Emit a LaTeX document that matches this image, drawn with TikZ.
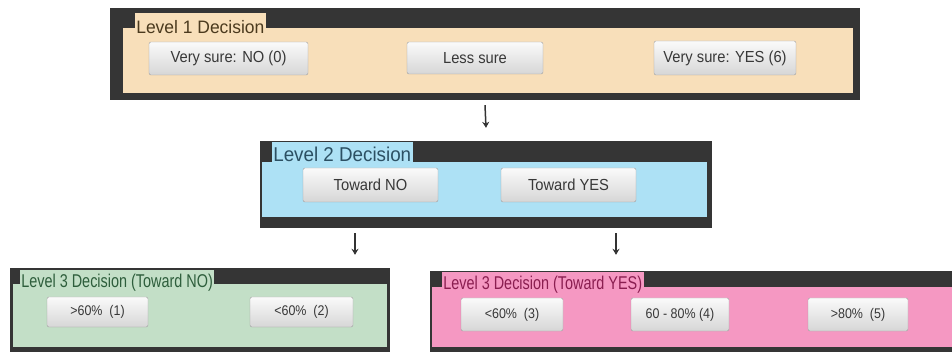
\documentclass[tikz,border=0pt]{standalone}
\usepackage{fontspec}
\setmainfont{Liberation Sans}
\usepackage{graphicx}
\usepackage{tikz}
\usetikzlibrary{arrows.meta,%
                shapes}
\definecolor{framegray}{HTML}{353535}
\definecolor{beige}{HTML}{F8DFBA}
\definecolor{skyblue}{HTML}{ADE1F5}
\definecolor{mintgreen}{HTML}{C3DFC7}
\definecolor{rosepink}{HTML}{F598C2}
\definecolor{brownink}{HTML}{4B3A1E}
\definecolor{blueink}{HTML}{2C5063}
\definecolor{greenink}{HTML}{2E5E3C}
\definecolor{pinkink}{HTML}{8A1E50}
\newcommand{\narrowtext}[2]{\scalebox{#1}[1]{#2}}
\begin{document}
\begin{tikzpicture}[x = 1pt, y = -1pt]
  \useasboundingbox (0,0) rectangle (952,352);
  \clip (0,0) rectangle (952,352);
  \tikzset{FrameStyle/.style  = {shape          = rectangle,
                                 fill           = framegray,
                                 inner sep      = 0pt}}
  \tikzset{BodyStyle/.style   = {shape          = rectangle,
                                 inner sep      = 0pt}}
  \tikzset{TabStyle/.style    = {shape          = rectangle,
                                 anchor         = south west,
                                 inner xsep     = 1.5pt,
                                 inner ysep     = 0pt,
                                 text depth     = 0pt,
                                 outer sep      = 0pt}}
  \tikzset{ButtonStyle/.style = {shape          = rectangle,
                                 rounded corners = 2pt,
                                 draw           = gray!75,
                                 top color      = gray!4,
                                 bottom color   = gray!32,
                                 text           = black!78,
                                 inner sep      = 0pt}}
  \tikzset{ArrowStyle/.style  = {line width     = 1.5pt,
                                 draw           = black!80,
                                 -{Stealth[length = 6pt, width = 7pt]}}}
  % Level 1
  \node[FrameStyle, minimum width = 750, minimum height = 92] (frameone) at (485,54) {};
  \node[BodyStyle, fill = beige, minimum width = 730, minimum height = 65] (bodyone) at (488,60.5) {};
  \node[TabStyle, fill = beige, text = brownink, text height = 21pt,
        font = \fontsize{18}{20}\selectfont] (tabone) at ([xshift = 12pt, yshift = -6pt]bodyone.north west) {\narrowtext{0.97}{Level 1 Decision}};
  \node[ButtonStyle, minimum width = 159, minimum height = 33,
        font = \fontsize{16}{18}\selectfont] (verysureno) at (228.5,58.5) {\narrowtext{0.92}{Very sure: NO (0)}};
  \node[ButtonStyle, minimum width = 136, minimum height = 32,
        font = \fontsize{16}{18}\selectfont] (lesssure) at (475,58) {\narrowtext{0.92}{Less sure}};
  \node[ButtonStyle, minimum width = 142, minimum height = 34,
        font = \fontsize{16}{18}\selectfont] (verysureyes) at (725,58) {\narrowtext{0.92}{Very sure: YES (6)}};
  % Level 2
  \node[FrameStyle, minimum width = 452, minimum height = 87] (frametwo) at (486,184.5) {};
  \node[BodyStyle, fill = skyblue, minimum width = 445, minimum height = 55] (bodytwo) at (484.5,189.5) {};
  \node[TabStyle, fill = skyblue, text = blueink, text height = 20pt,
        font = \fontsize{20}{22}\selectfont] (tabtwo) at ([xshift = 10pt]bodytwo.north west) {\narrowtext{0.94}{Level 2 Decision}};
  \node[ButtonStyle, minimum width = 135, minimum height = 34,
        font = \fontsize{16}{18}\selectfont] (towardno) at (370.5,185) {\narrowtext{0.92}{Toward NO}};
  \node[ButtonStyle, minimum width = 135, minimum height = 34,
        font = \fontsize{16}{18}\selectfont] (towardyes) at (568.5,185) {\narrowtext{0.92}{Toward YES}};
  % Level 3, toward NO
  \node[FrameStyle, minimum width = 380, minimum height = 84] (framethreeno) at (200,310) {};
  \node[BodyStyle, fill = mintgreen, minimum width = 374, minimum height = 63] (bodythreeno) at (200,315.5) {};
  \node[TabStyle, fill = mintgreen, text = greenink, text height = 18pt,
        font = \fontsize{18.5}{20}\selectfont] (tabthreeno) at ([xshift = 7pt, yshift = -4pt]bodythreeno.north west) {\narrowtext{0.78}{Level 3 Decision (Toward NO)}};
  \node[ButtonStyle, minimum width = 101, minimum height = 30,
        font = \fontsize{14}{16}\selectfont] (abovesixty) at (97.5,312) {\narrowtext{0.89}{>60\%\ \ (1)}};
  \node[ButtonStyle, minimum width = 103, minimum height = 30,
        font = \fontsize{14}{16}\selectfont] (belowsixtyno) at (301.5,312) {\narrowtext{0.89}{<60\%\ \ (2)}};
  % Level 3, toward YES
  \node[FrameStyle, minimum width = 535, minimum height = 81] (framethreeyes) at (697.5,311.5) {};
  \node[BodyStyle, fill = rosepink, minimum width = 528, minimum height = 60] (bodythreeyes) at (696,317) {};
  \node[TabStyle, fill = rosepink, text = pinkink, text height = 18pt,
        font = \fontsize{18.5}{20}\selectfont] (tabthreeyes) at ([xshift = 10pt, yshift = -3pt]bodythreeyes.north west) {\narrowtext{0.78}{Level 3 Decision (Toward YES)}};
  \node[ButtonStyle, minimum width = 102, minimum height = 33,
        font = \fontsize{14}{16}\selectfont] (belowsixtyyes) at (512,314.5) {\narrowtext{0.89}{<60\%\ \ (3)}};
  \node[ButtonStyle, minimum width = 98, minimum height = 33,
        font = \fontsize{14}{16}\selectfont] (sixtyeighty) at (680,314.5) {\narrowtext{0.89}{60 - 80\%\ (4)}};
  \node[ButtonStyle, minimum width = 100, minimum height = 33,
        font = \fontsize{14}{16}\selectfont] (aboveeighty) at (858,314.5) {\narrowtext{0.89}{>80\%\ \ (5)}};
  % arrows between levels
  \coordinate (arrowno)  at (355,0);
  \coordinate (arrowyes) at (616,0);
  \draw[ArrowStyle] ([yshift = -5pt]frameone.south) -- ([yshift = 13pt]frametwo.north);
  \draw[ArrowStyle] ([yshift = -5pt]frametwo.south -| arrowno) -- ([yshift = 13pt]framethreeno.north -| arrowno);
  \draw[ArrowStyle] ([yshift = -5pt]frametwo.south -| arrowyes) -- ([yshift = 16pt]framethreeyes.north -| arrowyes);
\end{tikzpicture}
\end{document}
